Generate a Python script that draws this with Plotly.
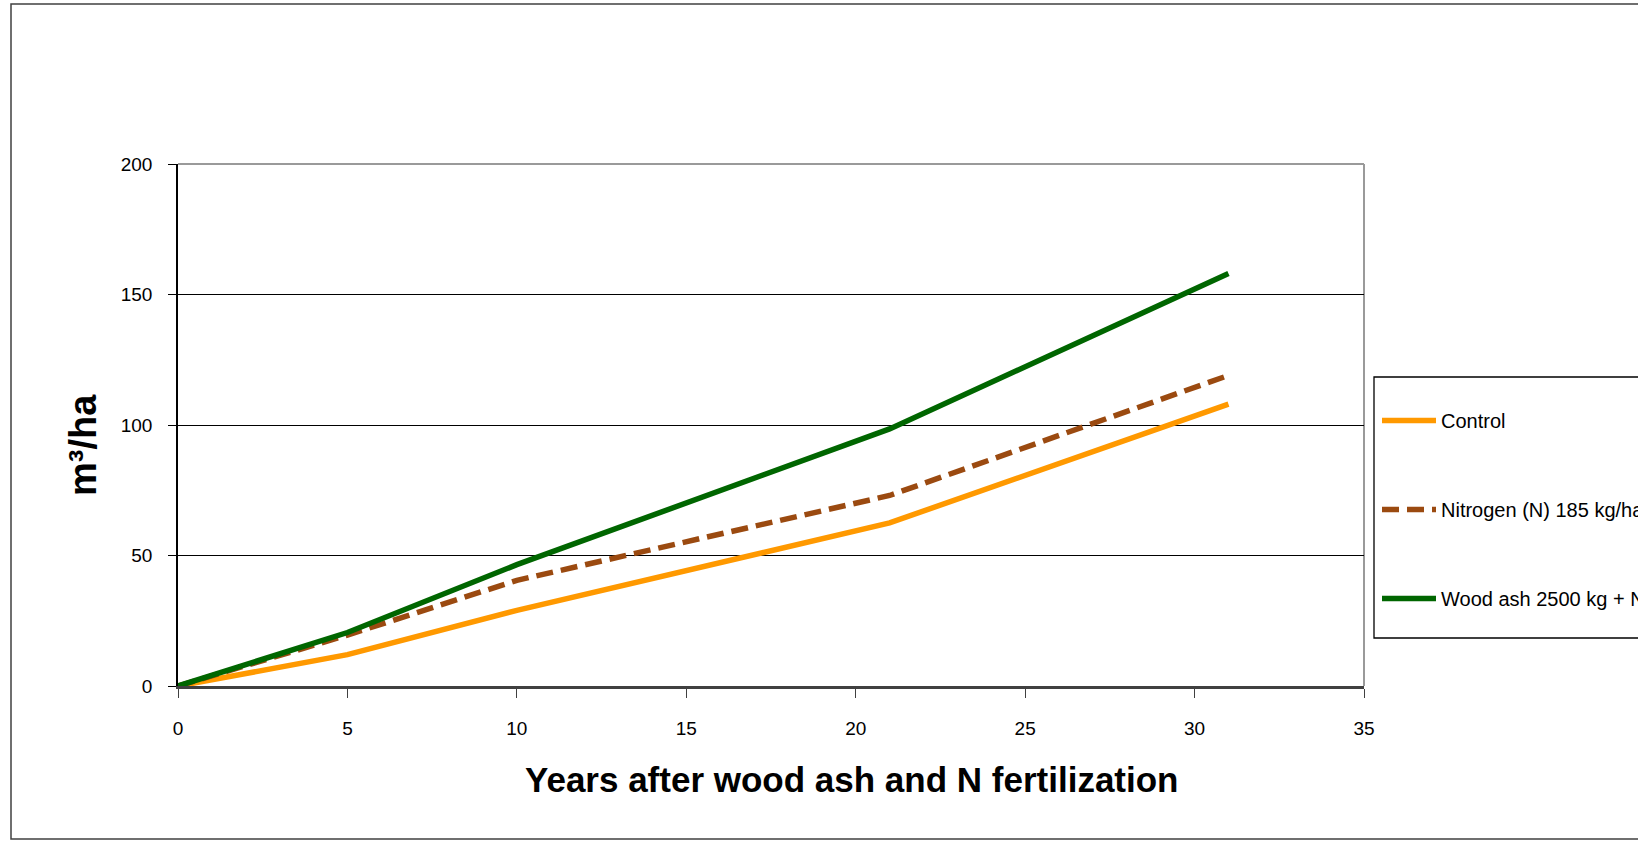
import plotly.graph_objects as go

# Standing volume growth after fertilization (m³/ha)
years = [0, 5, 10, 21, 31]
control = [0, 12, 29, 62.5, 108]
nitrogen = [0, 19.5, 40.5, 73, 119]
wood_ash_n = [0, 20.5, 46.5, 98.5, 158]

series_names = ["Control", "Nitrogen (N) 185 kg/ha", "Wood ash 2500 kg + N 185 kg/ha"]
series_colors = ["#FF9900", "#9B4A10", "#006600"]
series_dash = ["solid", "17px,8px", "solid"]

x_ticks = [0, 5, 10, 15, 20, 25, 30, 35]
y_ticks = [0, 50, 100, 150, 200]

W, H = 1638, 841
L, R, T, B = 178, 1364, 164, 686  # plot area in pixels


def px(x):
    return (x - L) / (R - L)


def py(y):
    return (B - y) / (B - T)


SANS = "Liberation Sans, Arial, sans-serif"

fig = go.Figure()
for name, vals, col, dash, grp in zip(series_names, [control, nitrogen, wood_ash_n],
                                      series_colors, series_dash, ["a", "b", "c"]):
    fig.add_trace(go.Scatter(
        x=years, y=vals, name=name, mode="lines", legendgroup=grp,
        line=dict(color=col, width=5.5, dash=dash),
    ))

fig.update_layout(
    width=W, height=H,
    margin=dict(l=L, r=W - R, t=T, b=H - B, autoexpand=False),
    paper_bgcolor="white", plot_bgcolor="white",
    font=dict(family=SANS, color="black"),
    showlegend=True,
    legend=dict(
        x=px(1377), y=py(401), xanchor="left", yanchor="top",
        bgcolor="rgba(0,0,0,0)", borderwidth=0,
        font=dict(family=SANS, size=20, color="black"),
        tracegroupgap=60, itemwidth=54,
    ),
    xaxis=dict(
        range=[0, 35], tickvals=x_ticks, ticks="outside", ticklen=9, tickwidth=1.3,
        tickcolor="#404040", showgrid=False, zeroline=False,
        showline=True, linecolor="#404040", linewidth=2.5,
        tickfont=dict(family=SANS, size=19), ticklabelstandoff=14,
    ),
    yaxis=dict(
        range=[0, 200], tickvals=y_ticks, ticks="outside", ticklen=8, tickwidth=1.3,
        tickcolor="black", showgrid=True, gridcolor="black", gridwidth=1.3,
        zeroline=False, showline=True, linecolor="black", linewidth=1.5,
        tickfont=dict(family=SANS, size=19), ticklabelstandoff=12,
    ),
)

shapes = [
    # plot-area frame (top and right edges)
    dict(type="line", xref="paper", yref="paper", x0=0, x1=1, y0=1, y1=1,
         line=dict(color="#9a9a9a", width=2), layer="above"),
    dict(type="line", xref="paper", yref="paper", x0=1, x1=1, y0=0, y1=1,
         line=dict(color="#9a9a9a", width=2), layer="below"),
    # chart-area border
    dict(type="rect", xref="paper", yref="paper",
         x0=px(11), x1=px(1700), y0=py(839), y1=py(4),
         line=dict(color="#404040", width=1.5), layer="below"),
    # legend frame
    dict(type="rect", xref="paper", yref="paper",
         x0=px(1374), x1=px(1700), y0=py(638), y1=py(377),
         line=dict(color="black", width=1.3), layer="below"),
]
fig.update_layout(shapes=shapes)

fig.add_annotation(
    text="<b>Years after wood ash and N fertilization</b>",
    xref="paper", yref="paper", x=px(851), y=py(779),
    xanchor="center", yanchor="middle", showarrow=False,
    font=dict(family=SANS, size=35, color="black"),
)
fig.add_annotation(
    text="<b>m³/ha</b>", textangle=-90,
    xref="paper", yref="paper", x=px(83), y=py(445),
    xanchor="center", yanchor="middle", showarrow=False,
    font=dict(family=SANS, size=38, color="black"),
)

fig.write_html("out.html")
